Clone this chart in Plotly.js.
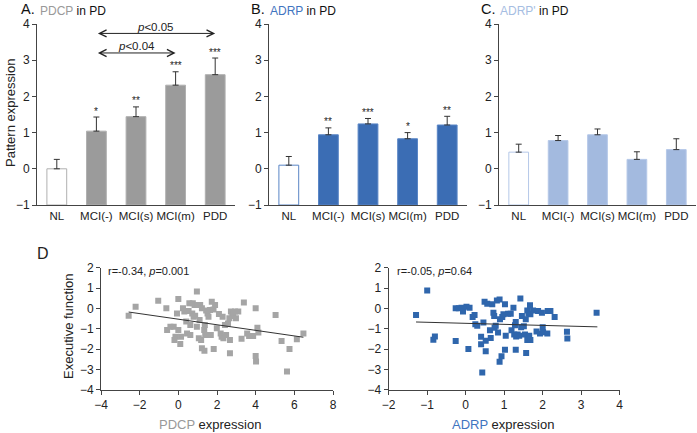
<!DOCTYPE html>
<html>
<head>
<meta charset="utf-8">
<script src="https://cdn.plot.ly/plotly-3.0.1.min.js"></script>
<style>html,body{margin:0;padding:0;background:#fff;}#chart{width:697px;height:433px;}</style>
</head>
<body>
<div id="chart"></div>
<script>
// ---------- data ----------
const groups = ['NL', 'MCI(-)', 'MCI(s)', 'MCI(m)', 'PDD'];

const pdcpMean = [0.00, 1.04, 1.44, 2.31, 2.60];
const pdcpErr  = [0.26, 0.39, 0.27, 0.37, 0.46];
const pdcpStars = ['', '*', '**', '***', '***'];

const adrpMean = [0.10, 0.94, 1.24, 0.83, 1.21];
const adrpErr  = [0.24, 0.19, 0.15, 0.17, 0.24];
const adrpStars = ['', '**', '***', '*', '**'];

const adrp2Mean = [0.46, 0.78, 0.94, 0.26, 0.53];
const adrp2Err  = [0.22, 0.14, 0.16, 0.21, 0.30];

const barBase = -1;

const pdcpX = [-2.57,-2.21,-1.04,-0.62,0.00,0.96,-0.07,-0.58,-0.41,-0.24,-0.15,-0.20,0.00,0.14,0.10,0.24,0.31,0.41,0.45,0.53,0.57,0.62,0.62,0.72,0.75,0.79,0.84,0.87,0.96,0.99,1.10,1.13,1.22,1.06,1.18,1.22,1.35,1.34,1.39,1.37,1.44,1.51,1.56,1.64,1.68,1.73,1.82,1.90,1.83,1.99,2.10,2.19,2.24,2.29,2.33,2.41,2.47,2.57,2.64,2.67,2.67,2.72,2.79,2.84,2.93,2.98,3.10,3.27,3.39,3.56,3.66,3.87,4.00,4.00,4.02,4.09,4.14,5.03,5.34,5.62,5.75,6.13,6.47];
const pdcpY = [-0.36,0.08,0.38,0.00,0.46,0.83,-0.25,-1.06,-0.90,-0.90,-1.39,-1.55,-1.06,-1.39,-1.75,0.00,-0.16,-0.65,-1.23,-0.13,0.25,-0.82,-1.31,-0.25,0.25,-0.41,0.16,-0.36,-0.90,0.16,-0.57,0.16,0.00,-1.47,-1.55,-1.96,-2.09,-1.06,-1.31,-0.82,-0.11,-0.25,-0.41,-0.08,-1.31,0.33,-0.05,0.16,-2.00,-0.98,-0.28,-1.23,-1.39,-0.41,-1.47,-0.82,-1.31,-0.74,-0.49,-1.55,-2.21,-0.16,-0.38,-0.25,-0.16,-0.49,-0.16,-1.50,0.29,-1.23,-1.36,-1.36,0.00,-2.34,-2.61,-0.95,-1.19,-0.33,-1.60,-3.10,-2.00,-1.52,-1.23];

const adrpX = [-1.29,-1.00,-0.84,-0.80,-0.26,-0.26,-0.18,-0.11,-0.07,0.02,0.10,0.07,0.18,0.23,0.25,0.30,0.40,0.40,0.43,0.46,0.49,0.52,0.52,0.56,0.63,0.65,0.69,0.72,0.74,0.75,0.78,0.81,0.84,0.88,0.88,0.89,0.93,0.95,0.98,1.02,1.02,1.04,1.10,1.17,1.19,1.24,1.26,1.28,1.30,1.30,1.31,1.35,1.39,1.42,1.44,1.46,1.51,1.54,1.56,1.57,1.60,1.60,1.63,1.65,1.67,1.68,1.68,1.75,1.84,1.88,1.93,1.98,2.00,2.01,2.12,2.13,2.20,2.31,2.63,2.64,3.40];
const adrpY = [-0.33,0.88,-1.54,-1.38,-1.61,0.00,0.00,0.03,-0.16,0.08,0.03,-2.00,-0.42,-0.33,-0.78,-0.86,-1.40,-1.76,-3.15,-0.70,0.33,-1.59,-2.11,0.23,-1.08,-1.46,0.20,-0.21,-0.37,-0.95,-0.86,0.39,-1.19,0.44,-2.62,-0.54,-2.36,-0.42,-0.29,0.20,-2.03,-1.35,-0.26,-0.26,-1.08,0.03,-1.28,-0.83,-0.67,-2.03,-1.38,-1.28,-1.35,0.49,-0.93,-0.37,-0.88,-1.28,-0.54,-2.20,-0.10,-1.56,-0.26,-1.35,0.15,-1.56,-0.29,-0.10,-1.14,-0.13,-1.24,-0.21,-0.93,-1.17,-1.24,-0.13,-0.13,-0.42,-1.15,-1.48,-0.21];

const trend1X = [-2.57, 6.47], trend1Y = [-0.18, -1.42];
const trend2X = [-1.29, 3.42], trend2Y = [-0.67, -0.91];

// ---------- styling ----------
const W = 697, H = 433;
const px = v => v / W;
const py = v => 1 - v / H;
const FONT = 'Liberation Sans, Arial, sans-serif';
const AX = '#444';
const gray = '#9b9b9b', blue = '#3b6db4', lblue = '#a3badf';

function barTraces(mean, err, fill, edge, xa, ya) {
  return [{
    type: 'bar', x: groups, y: mean.map(v => v - barBase), base: barBase,
    xaxis: xa, yaxis: ya, width: 0.5,
    marker: {color: mean.map((v, i) => i === 0 ? '#ffffff' : fill),
             line: {color: edge, width: 1}},
    error_y: {type: 'data', symmetric: false, array: err, arrayminus: err.map(() => 0),
              color: '#333', thickness: 1, width: 3},
    hoverinfo: 'skip', showlegend: false
  }];
}

const data = [
  ...barTraces(pdcpMean, pdcpErr, gray, '#b0b0b0', 'x', 'y'),
  ...barTraces(adrpMean, adrpErr, blue, '#5a86c6', 'x2', 'y2'),
  ...barTraces(adrp2Mean, adrp2Err, lblue, '#b5c8e8', 'x3', 'y3'),
  {type: 'scatter', mode: 'markers', x: pdcpX, y: pdcpY, xaxis: 'x4', yaxis: 'y4',
   marker: {symbol: 'square', size: 6, color: '#a5a5a5'}, showlegend: false},
  {type: 'scatter', mode: 'lines', x: trend1X, y: trend1Y, xaxis: 'x4', yaxis: 'y4',
   line: {color: '#333', width: 1}, showlegend: false},
  {type: 'scatter', mode: 'markers', x: adrpX, y: adrpY, xaxis: 'x5', yaxis: 'y5',
   marker: {symbol: 'square', size: 6, color: '#2f66ac'}, showlegend: false},
  {type: 'scatter', mode: 'lines', x: trend2X, y: trend2Y, xaxis: 'x5', yaxis: 'y5',
   line: {color: '#333', width: 1}, showlegend: false}
];

function barX(d, anchor) {
  return {domain: d, anchor: anchor, type: 'category', range: [-0.5, 4.5], showline: true,
          linecolor: AX, linewidth: 1, ticks: '', tickangle: 0, showgrid: false, zeroline: false,
          tickfont: {family: FONT, size: 11.5, color: '#222'}};
}
function barY(anchor) {
  return {domain: [py(205), py(24)], anchor: anchor, range: [-1, 4], dtick: 1, showline: true,
          linecolor: AX, linewidth: 1, ticks: 'outside', ticklen: 4, tickcolor: AX,
          showgrid: false, zeroline: false, tickfont: {family: FONT, size: 12, color: '#222'}};
}
function scX(d, anchor, r, dt) {
  return {domain: d, anchor: anchor, range: r, dtick: dt, showline: true, linecolor: AX,
          ticks: 'outside', ticklen: 4, tickcolor: AX, showgrid: false, zeroline: false,
          tickfont: {family: FONT, size: 12, color: '#222'}};
}
function scY(anchor) {
  return {domain: [py(389.7), py(267.7)], anchor: anchor, range: [-4, 2], dtick: 1, showline: true,
          linecolor: AX, ticks: 'outside', ticklen: 4, tickcolor: AX, showgrid: false, zeroline: false,
          tickfont: {family: FONT, size: 12, color: '#222'}};
}

const annotations = [];
function starAnn(stars, mean, err, xr, yr) {
  stars.forEach((s, i) => {
    if (!s) return;
    annotations.push({xref: xr, yref: yr, x: i, y: mean[i] + err[i], text: s, showarrow: false,
      xanchor: 'center', yanchor: 'middle', yshift: 6, font: {family: FONT, size: 10, color: '#222'}});
  });
}
starAnn(pdcpStars, pdcpMean, pdcpErr, 'x', 'y');
starAnn(adrpStars, adrpMean, adrpErr, 'x2', 'y2');

// comparison arrows
[[1, 3, 3.2], [1, 4, 3.74]].forEach(a => {
  annotations.push({xref: 'x', yref: 'y', axref: 'x', ayref: 'y', x: a[1], y: a[2], ax: a[0], ay: a[2],
    text: '', showarrow: true, arrowhead: 5, startarrowhead: 5, arrowside: 'end+start',
    arrowsize: 1.4, arrowwidth: 1, arrowcolor: '#222'});
});
annotations.push({xref: 'x', yref: 'y', x: 2, y: 3.38, text: '<i>p</i>&lt;0.04', showarrow: false,
  xanchor: 'center', yanchor: 'middle', font: {family: FONT, size: 11.5, color: '#222'}});
annotations.push({xref: 'x', yref: 'y', x: 2.5, y: 3.92, text: '<i>p</i>&lt;0.05', showarrow: false,
  xanchor: 'center', yanchor: 'middle', font: {family: FONT, size: 11.5, color: '#222'}});

// panel titles
function panelTitle(x, letter, name, col) {
  annotations.push({xref: 'paper', yref: 'paper', x: px(x), y: py(9), xanchor: 'left', yanchor: 'middle',
    showarrow: false, text: letter + '.', font: {family: FONT, size: 14.5, color: '#111'}});
  annotations.push({xref: 'paper', yref: 'paper', x: px(x + 19), y: py(10.5), xanchor: 'left', yanchor: 'middle',
    showarrow: false, text: '<span style="color:' + col + '">' + name + '</span> in PD',
    font: {family: FONT, size: 12, color: '#111'}});
}
panelTitle(19, 'A', 'PDCP', '#999999');
panelTitle(249, 'B', 'ADRP', '#3f74c0');
panelTitle(479, 'C', "ADRP'", '#a6bde2');

function centered(x, y, text, size, angle) {
  annotations.push({xref: 'paper', yref: 'paper', x: px(x), y: py(y), xanchor: 'center', yanchor: 'middle',
    text: text, textangle: angle || 0, showarrow: false, font: {family: FONT, size: size, color: '#222'}});
}
centered(43, 254, 'D', 16);
centered(10, 113, 'Pattern expression', 13, -90);
centered(68, 326, 'Executive function', 13, -90);
centered(210, 424, '<span style="color:#999999">PDCP</span> expression', 13);
centered(503, 424, '<span style="color:#3f74c0">ADRP</span> expression', 13);

annotations.push({xref: 'paper', yref: 'paper', x: px(106), y: py(271), xanchor: 'left', yanchor: 'middle',
  text: 'r=-0.34, <i>p</i>=0.001', showarrow: false, font: {family: FONT, size: 11, color: '#222'}});
annotations.push({xref: 'paper', yref: 'paper', x: px(395), y: py(271), xanchor: 'left', yanchor: 'middle',
  text: 'r=-0.05, <i>p</i>=0.64', showarrow: false, font: {family: FONT, size: 11, color: '#222'}});

const layout = {
  width: W, height: H, margin: {l: 0, r: 0, t: 0, b: 0}, paper_bgcolor: '#fff', plot_bgcolor: 'rgba(0,0,0,0)',
  showlegend: false, font: {family: FONT},
  xaxis: barX([px(37), px(235)], 'y'), yaxis: barY('x'),
  xaxis2: barX([px(269), px(467)], 'y2'), yaxis2: barY('x2'),
  xaxis3: barX([px(499), px(696)], 'y3'), yaxis3: barY('x3'),
  xaxis4: scX([px(101), px(333)], 'y4', [-4, 8], 2), yaxis4: scY('x4'),
  xaxis5: scX([px(388.7), px(619.7)], 'y5', [-2, 4], 1), yaxis5: scY('x5'),
  annotations: annotations
};

Plotly.newPlot('chart', data, layout, {staticPlot: true, displayModeBar: false});
</script>
</body>
</html>
